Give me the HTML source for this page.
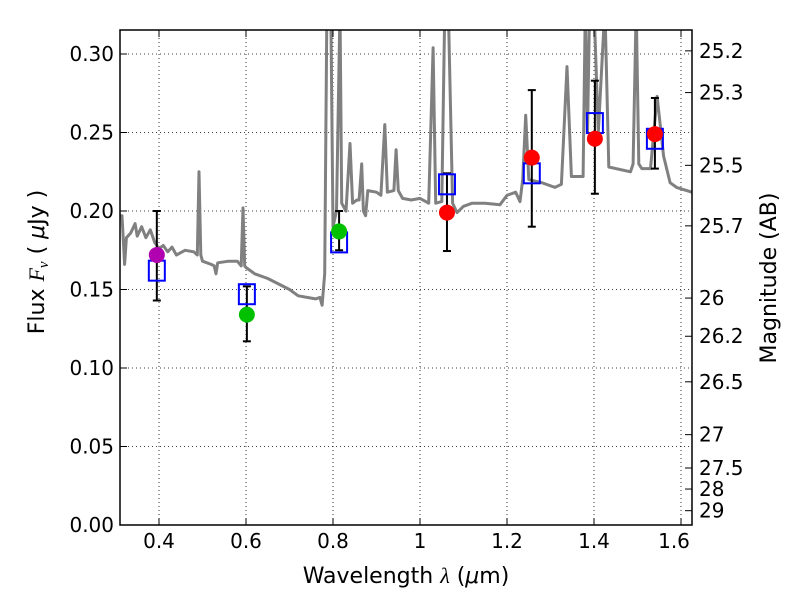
<!DOCTYPE html>
<html><head><meta charset="utf-8"><style>
body{margin:0;background:#fff;}
svg{display:block;font-family:"DejaVu Sans","Liberation Sans",sans-serif;}
</style></head><body>
<svg id="c" width="800" height="600"></svg>
<script>
const specLam=[0.31,0.315,0.321,0.325,0.335,0.345,0.35,0.36,0.37,0.38,0.39,0.40,0.41,0.42,0.43,0.44,0.46,0.48,0.488,0.492,0.496,0.50,0.52,0.527,0.531,0.535,0.56,0.58,0.589,0.593,0.597,0.60,0.62,0.65,0.70,0.72,0.76,0.77,0.775,0.781,0.786,0.795,0.80,0.808,0.816,0.82,0.83,0.839,0.845,0.855,0.86,0.866,0.87,0.875,0.88,0.90,0.91,0.919,0.925,0.94,0.945,0.95,0.96,0.98,1.0,1.02,1.03,1.036,1.05,1.057,1.065,1.075,1.085,1.10,1.12,1.15,1.184,1.2,1.22,1.23,1.236,1.243,1.25,1.28,1.31,1.325,1.338,1.348,1.375,1.38,1.385,1.39,1.395,1.40,1.41,1.425,1.434,1.484,1.49,1.497,1.503,1.51,1.53,1.545,1.56,1.575,1.59,1.625,1.63];
const specFlux=[0.197,0.197,0.166,0.183,0.186,0.192,0.184,0.190,0.183,0.188,0.180,0.176,0.178,0.174,0.177,0.172,0.175,0.174,0.172,0.225,0.172,0.168,0.166,0.165,0.160,0.167,0.168,0.168,0.165,0.202,0.165,0.164,0.160,0.157,0.150,0.146,0.144,0.145,0.140,0.16,0.33,0.33,0.19,0.2,0.33,0.205,0.20,0.243,0.205,0.207,0.207,0.230,0.200,0.197,0.213,0.212,0.210,0.255,0.212,0.213,0.239,0.213,0.208,0.207,0.208,0.205,0.304,0.205,0.206,0.33,0.33,0.205,0.199,0.203,0.205,0.205,0.204,0.210,0.212,0.206,0.220,0.261,0.220,0.218,0.215,0.217,0.292,0.222,0.222,0.33,0.25,0.33,0.33,0.33,0.25,0.33,0.228,0.225,0.23,0.33,0.23,0.227,0.227,0.273,0.235,0.218,0.215,0.212,0.211];
const obsLam=[0.395,0.602,0.814,1.062,1.257,1.402,1.540];
const obsFlux=[0.172,0.134,0.187,0.199,0.234,0.246,0.249];
const errLo=[0.143,0.117,0.175,0.1745,0.190,0.211,0.227];
const errHi=[0.200,0.152,0.200,0.224,0.277,0.283,0.272];
const modelFlux=[0.162,0.147,0.180,0.217,0.224,0.256,0.246];
const obsColor=['#b000b0','#00c000','#00c000','#ff0000','#ff0000','#ff0000','#ff0000'];
const xTicks=[0.4,0.6,0.8,1.0,1.2,1.4,1.6];
const xTickLabels=['0.4','0.6','0.8','1','1.2','1.4','1.6'];
const yTicks=[0,0.05,0.10,0.15,0.20,0.25,0.30];
const yTickLabels=['0.00','0.05','0.10','0.15','0.20','0.25','0.30'];
const magTicks=[25.2,25.3,25.5,25.7,26,26.2,26.5,27,27.5,28,29];

const L=120,R=692,T=30,B=525;
const X=v=>159+(v-0.4)*435;
const Y=v=>525-v*1570;
const NS='http://www.w3.org/2000/svg';
const svg=document.getElementById('c');
function el(tag,attrs,parent){const e=document.createElementNS(NS,tag);for(const k in attrs)e.setAttribute(k,attrs[k]);(parent||svg).appendChild(e);return e;}

const defs=el('defs',{});
const cp=el('clipPath',{id:'clip'},defs);
el('rect',{x:L,y:T,width:R-L,height:B-T},cp);

const grid=el('g',{});


xTicks.forEach(v=>el('line',{x1:X(v),x2:X(v),y1:T,y2:B,stroke:'#000','stroke-dasharray':'1,3','stroke-width':0.8},grid));
yTicks.forEach(v=>el('line',{x1:L,x2:R,y1:Y(v),y2:Y(v),stroke:'#000','stroke-dasharray':'1,3','stroke-width':0.8},grid));

const g=el('g',{'clip-path':'url(#clip)'});
let d='';
specLam.forEach((l,i)=>{d+=(i?'L':'M')+X(l).toFixed(1)+','+Y(specFlux[i]).toFixed(1);});
const sp=el('path',{d:d,fill:'none',stroke:'#808080','stroke-width':3,'stroke-linejoin':'round'},g);



obsLam.forEach((l,i)=>{
  const x=X(l);
  const eb=el('g',{},g);
  
  
  el('line',{x1:x,x2:x,y1:Y(errLo[i]),y2:Y(errHi[i]),stroke:'#000','stroke-width':2},eb);
  el('line',{x1:x-4,x2:x+4,y1:Y(errLo[i]),y2:Y(errLo[i]),stroke:'#000','stroke-width':2},eb);
  el('line',{x1:x-4,x2:x+4,y1:Y(errHi[i]),y2:Y(errHi[i]),stroke:'#000','stroke-width':2},eb);
  const sq=el('rect',{x:x-8,y:Y(modelFlux[i])-10,width:16,height:20,fill:'none',stroke:'#0000ff','stroke-width':2},g);
  
  
  const c=el('circle',{cx:x,cy:Y(obsFlux[i]),r:8,fill:obsColor[i]},g);
  
  
});

const frame=el('rect',{x:L,y:T,width:R-L,height:B-T,fill:'none',stroke:'#000','stroke-width':1.5});



xTicks.forEach((v,i)=>{
  el('line',{x1:X(v),x2:X(v),y1:B,y2:B-7,stroke:'#000'});
  el('line',{x1:X(v),x2:X(v),y1:T,y2:T+7,stroke:'#000'});
  const t=el('text',{x:X(v)+(v==1.6?-7:0),y:B+23,'text-anchor':'middle','font-size':20});
  t.textContent=xTickLabels[i];
  
  
});
yTicks.forEach((v,i)=>{
  el('line',{x1:L,x2:L+7,y1:Y(v),y2:Y(v),stroke:'#000'});
  const t=el('text',{x:L-6,y:Y(v)+7,'text-anchor':'end','font-size':20});
  t.textContent=yTickLabels[i];
  
  
});
magTicks.forEach(m=>{
  const f=Math.pow(10,(23.9-m)/2.5);
  const y=Y(f);
  el('line',{x1:R,x2:R-7,y1:y,y2:y,stroke:'#000'});
  const t=el('text',{x:R+7,y:y+7,'font-size':20});
  t.textContent=String(m);
  
  
});

const xl=el('text',{x:406,y:583,'text-anchor':'middle','font-size':22});
xl.innerHTML='Wavelength  <tspan font-style="italic" font-family="Liberation Serif, serif">λ</tspan> (<tspan font-style="italic">μ</tspan>m)';


const yl=el('text',{x:44,y:262,'text-anchor':'middle','font-size':22,transform:'rotate(-90 44 262)'});
yl.innerHTML='Flux  <tspan font-style="italic" font-family="Liberation Serif, serif">F</tspan><tspan font-style="italic" font-size="15" dy="4" font-family="Liberation Serif, serif">ν</tspan><tspan dy="-4">  (  </tspan><tspan font-style="italic">μ</tspan>Jy )';


const rl=el('text',{x:776,y:278,'text-anchor':'middle','font-size':22,transform:'rotate(-90 776 278)'});
rl.textContent='Magnitude (AB)';


</script>
</body></html>
